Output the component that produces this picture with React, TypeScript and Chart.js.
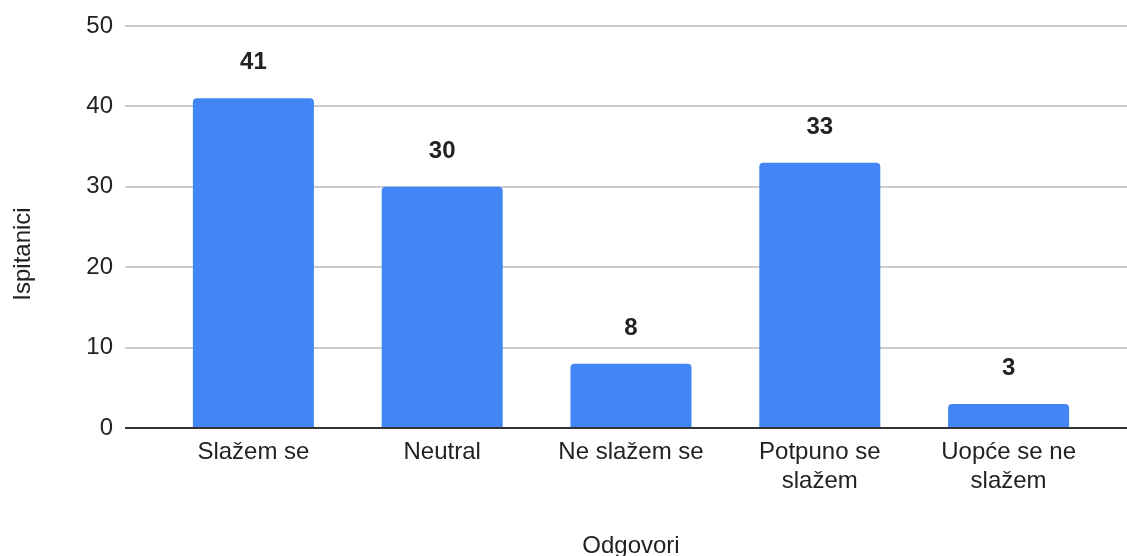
import React, { useEffect, useRef } from "react";
import { Chart, registerables } from "chart.js";

Chart.register(...registerables);

const categories: string[][] = [
  ["Slažem se"],
  ["Neutral"],
  ["Ne slažem se"],
  ["Potpuno se", "slažem"],
  ["Uopće se ne", "slažem"],
];
const values: number[] = [41, 30, 8, 33, 3];
const yTicks: number[] = [0, 10, 20, 30, 40, 50];
const xTitle = "Odgovori";
const yTitle = "Ispitanici";

const FONT = "'Liberation Sans', Arial, sans-serif";
const TEXT = "#222222";

const decorPlugin = {
  id: "decor",
  beforeDatasetsDraw(chart: any) {
    const { ctx } = chart;
    const y = chart.scales.y;
    ctx.save();
    ctx.strokeStyle = "#cccccc";
    ctx.lineWidth = 2;
    yTicks.forEach((v) => {
      if (v === 0) return;
      const py = Math.round(y.getPixelForValue(v));
      ctx.beginPath();
      ctx.moveTo(125, py);
      ctx.lineTo(chart.width, py);
      ctx.stroke();
    });
    ctx.restore();
  },
  afterDatasetsDraw(chart: any) {
    const { ctx } = chart;
    const y = chart.scales.y;
    ctx.save();
    const p0 = Math.round(y.getPixelForValue(0));
    ctx.strokeStyle = "#333333";
    ctx.lineWidth = 2;
    ctx.beginPath();
    ctx.moveTo(125, p0);
    ctx.lineTo(chart.width, p0);
    ctx.stroke();
    const meta = chart.getDatasetMeta(0);
    ctx.fillStyle = TEXT;
    ctx.font = `bold 24px ${FONT}`;
    ctx.textAlign = "center";
    ctx.textBaseline = "alphabetic";
    meta.data.forEach((bar: any, i: number) => {
      ctx.fillText(String(values[i]), bar.x, bar.y - 29);
    });
    ctx.font = `24px ${FONT}`;
    ctx.textBaseline = "middle";
    ctx.textAlign = "center";
    const ca = chart.chartArea;
    ctx.fillText(xTitle, (ca.left + ca.right) / 2, 546);
    ctx.translate(23, 254);
    ctx.rotate(-Math.PI / 2);
    ctx.fillText(yTitle, 0, 0);
    ctx.restore();
  },
};

export default function App() {
  const ref = useRef<HTMLCanvasElement | null>(null);
  useEffect(() => {
    if (!ref.current) return;
    const chart = new Chart(ref.current, {
      type: "bar",
      data: {
        labels: categories,
        datasets: [
          {
            data: values,
            backgroundColor: "#4285f4",
            borderRadius: 4,
            borderSkipped: "start",
            categoryPercentage: 1,
            barPercentage: 0.641,
          },
        ],
      },
      options: {
        animation: false,
        responsive: false,
        layout: { padding: { top: 26, right: 24, bottom: 0, left: 0 } },
        plugins: { legend: { display: false }, tooltip: { enabled: false } },
        scales: {
          x: {
            grid: { display: false, drawTicks: false },
            border: { display: false },
            ticks: {
              color: TEXT,
              font: { family: FONT, size: 24, lineHeight: 1.2 },
              padding: 10,
              maxRotation: 0,
              autoSkip: false,
            },
            afterFit: (s: any) => {
              s.height = 128;
            },
          },
          y: {
            min: 0,
            max: 50,
            grid: { display: false, drawTicks: false },
            border: { display: false },
            ticks: {
              stepSize: 10,
              color: TEXT,
              font: { family: FONT, size: 24 },
              padding: 46,
            },
            afterFit: (s: any) => {
              s.width = 159;
              s.paddingTop = 0;
              s.paddingBottom = 0;
            },
          },
        },
      },
      plugins: [decorPlugin],
    });
    return () => chart.destroy();
  }, []);
  return (
    <div style={{ position: "fixed", left: 0, top: 0, width: 1127, height: 556, background: "#fff" }}>
      <canvas ref={ref} width={1127} height={556} />
    </div>
  );
}
